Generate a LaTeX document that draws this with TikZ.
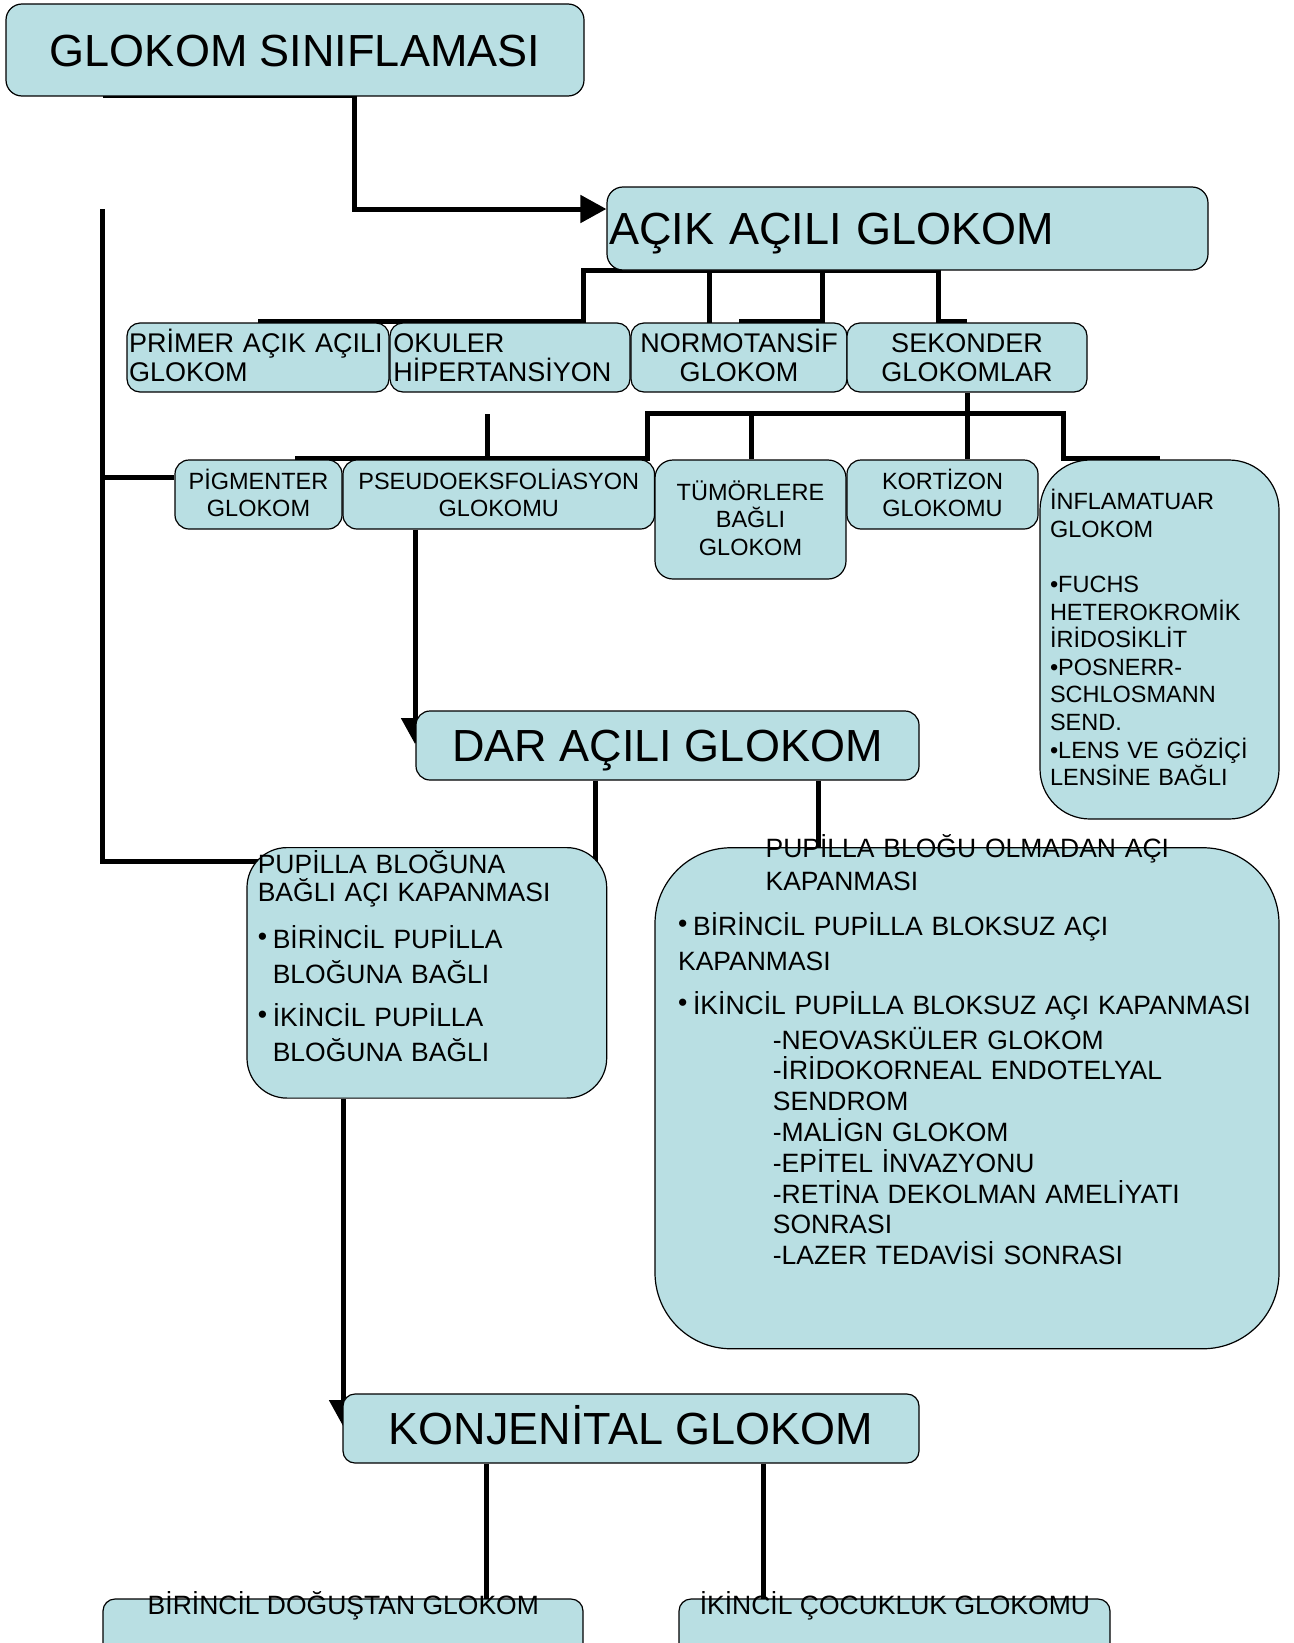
\documentclass[tikz,border=0pt]{standalone}
\usepackage{fontspec}
\setmainfont{Liberation Sans}
\usetikzlibrary{arrows.meta,backgrounds}

\definecolor{boxfill}{RGB}{185,223,227}
\newcommand{\fTitle}{\fontsize{22.5pt}{27pt}\selectfont}
\newcommand{\fMid}{\fontsize{13.5pt}{14.75pt}\selectfont}
\newcommand{\fSmall}{\fontsize{11.75pt}{13.78pt}\selectfont}
\newcommand{\fBody}{\fontsize{13.25pt}{15.4pt}\selectfont}
\newcommand{\blt}{\makebox[7.5pt][l]{\raisebox{1.5pt}{•}}}

\begin{document}
\begin{tikzpicture}[x=0.5pt, y=-0.5pt,
  box/.style={draw=black, line width=0.6pt, fill=boxfill, rounded corners=7pt, inner sep=0pt},
  title/.style={box, font=\fTitle, text height=16.1pt, text depth=0pt, rounded corners=8pt},
  mid/.style={box, font=\fMid, minimum height=34.5pt, text height=9.67pt, align=center, rounded corners=6.5pt},
  small/.style={box, font=\fSmall, minimum height=34.5pt, text height=8.41pt, align=center},
  txt/.style={anchor=base west, inner sep=0pt, font=\fBody, align=left},
  link/.style={line width=2.5pt},
  tip/.style={-{Triangle[length=13pt,width=13.5pt]}}]
  \path[use as bounding box] (0,0) rectangle (1294,1643);
  \clip (0,0) rectangle (1294,1643);

  \node[title, minimum width=289pt, minimum height=46pt] (sinif) at (295,50) {GLOKOM SINIFLAMASI};
  \node[title, minimum width=300.5pt, minimum height=41.5pt, text width=298.5pt, inner xsep=1pt, align=left] (acik) at (907.5,228.5) {AÇIK AÇILI GLOKOM};

  \node[mid, minimum width=131pt, text width=129pt, inner xsep=1pt, align=left] (primer) at (258,357.5) {PRİMER AÇIK AÇILI\\GLOKOM};
  \node[mid, minimum width=120pt, text width=116.6pt, inner xsep=1.7pt, align=left] (okuler) at (510,357.5) {OKULER\\HİPERTANSİYON};
  \node[mid, minimum width=108pt, text width=108pt] (normo) at (739,357.5) {NORMOTANSİF\\GLOKOM};
  \node[mid, minimum width=120pt, text width=120pt] (sekonder) at (967,357.5) {SEKONDER\\GLOKOMLAR};

  \node[small, minimum width=83.5pt, text width=83.5pt] (pigm) at (258.5,494.5) {PİGMENTER\\GLOKOM};
  \node[small, minimum width=155.75pt, text width=155.75pt] (pseudo) at (498.75,494.5) {PSEUDOEKSFOLİASYON\\GLOKOMU};
  \node[small, minimum width=95.5pt, text width=95.5pt, minimum height=59.5pt, rounded corners=9pt] (tumor) at (750.5,519.5) {TÜMÖRLERE\\BAĞLI\\GLOKOM};
  \node[small, minimum width=95.5pt, text width=95.5pt] (kort) at (942.5,494.5) {KORTİZON\\GLOKOMU};
  \node[small, minimum width=119.5pt, text width=109.5pt, inner xsep=5pt, minimum height=179.5pt, align=left, rounded corners=25pt] (infl) at (1159.5,639.5) {İNFLAMATUAR\\GLOKOM\\[13.78pt]•FUCHS\\HETEROKROMİK\\İRİDOSİKLİT\\•POSNERR-\\SCHLOSMANN\\SEND.\\•LENS VE GÖZİÇİ\\LENSİNE BAĞLI};

  \node[title, minimum width=251.5pt, minimum height=34.5pt, rounded corners=7pt] (dar) at (667.5,745.5) {DAR AÇILI GLOKOM};

  \node[box, minimum width=179.85pt, minimum height=125.25pt, rounded corners=20pt] (pupil) at (426.85,972.85) {};
  \node[box, minimum width=312pt, minimum height=250.5pt, rounded corners=38pt] (nonpup) at (967,1098.25) {};

  \node[txt, text width=175pt] (pupiltxt) at (257.4,873.3) {PUPİLLA BLOĞUNA\\[-1.2pt]BAĞLI AÇI KAPANMASI\\[7.9pt]\blt BİRİNCİL PUPİLLA\\[2.1pt]\hspace*{7.5pt}BLOĞUNA BAĞLI\\[6.3pt]\blt İKİNCİL PUPİLLA\\[2.1pt]\hspace*{7.5pt}BLOĞUNA BAĞLI};
  \node[txt, text width=250pt] (nphead) at (765.2,857.9) {PUPİLLA BLOĞU OLMADAN AÇI\\[0.95pt]KAPANMASI};
  \node[txt, text width=300pt] (npbul) at (677.7,935.4) {\blt BİRİNCİL PUPİLLA BLOKSUZ AÇI\\[2.15pt]KAPANMASI\\[6.65pt]\blt İKİNCİL PUPİLLA BLOKSUZ AÇI KAPANMASI};
  \node[txt, text width=240pt] (npsub) at (772.5,1049) {-NEOVASKÜLER GLOKOM\\-İRİDOKORNEAL ENDOTELYAL\\SENDROM\\-MALİGN GLOKOM\\-EPİTEL İNVAZYONU\\-RETİNA DEKOLMAN AMELİYATI\\SONRASI\\-LAZER TEDAVİSİ SONRASI};

  \node[title, minimum width=288pt, minimum height=34.5pt, rounded corners=6pt] (konj) at (631,1428.5) {KONJENİTAL GLOKOM};

  \node[box, minimum width=240pt, minimum height=50pt, rounded corners=6pt] (birincil) at (343,1649) {};
  \node[box, minimum width=215.5pt, minimum height=50pt, rounded corners=6pt] (ikincil) at (894.5,1649) {};
  \node[anchor=base, inner sep=0pt, font=\fBody] (birtxt) at (343.3,1614) {BİRİNCİL DOĞUŞTAN GLOKOM};
  \node[anchor=base, inner sep=0pt, font=\fBody] (ikitxt) at (894.9,1614) {İKİNCİL ÇOCUKLUK GLOKOMU};

  \coordinate (j0) at (103,96);
  \coordinate (j1) at (354,96);
  \coordinate (j2) at (354,209);
  \coordinate (l0) at (102,209);
  \coordinate (l1) at (102,861);
  \coordinate (l2) at (262,861);
  \coordinate (l3) at (102,477);
  \coordinate (b1) at (583,270);
  \coordinate (b2) at (709,270);
  \coordinate (b3) at (822.5,270);
  \coordinate (b4) at (938,270);
  \coordinate (t1) at (583,321);
  \coordinate (t2) at (709,323);
  \coordinate (t3) at (822.5,321);
  \coordinate (t4) at (938,321);
  \coordinate (k1) at (647,413);
  \coordinate (k2) at (751,413);
  \coordinate (k3) at (1063,413);
  \coordinate (u0) at (295,458);
  \coordinate (u1) at (647,458);
  \coordinate (u3) at (1063,458);
  \coordinate (p1) at (487,414);
  \coordinate (p2) at (487,458);
  \coordinate (q1) at (415,744);
  \coordinate (d1) at (595,870);
  \coordinate (d2) at (818,848);
  \coordinate (r1) at (343,1426);
  \coordinate (e1) at (486,1599);
  \coordinate (e2) at (763,1599);

  \begin{pgfonlayer}{background}
    \draw[link, tip] (j0) -- (j1) -- (j2) -- (j2 -| acik.west);
    \draw[link] (l0) -- (l1) -- (l2);
    \draw[link] (l3) -- (l3 -| pigm.west);
    \draw[link] (primer.north |- t1) -- (t1) -- (b1) -- (b4) -- (t4) -- (sekonder.north |- t4);
    \draw[link] (b2) -- (t2);
    \draw[link] (b3) -- (t3) -- (normo.north |- t3);
    \draw[link] (sekonder.south) -- (sekonder.south |- kort.north);
    \draw[link] (u0) -- (u1) -- (k1) -- (k3) -- (u3) -- (infl.north |- u3);
    \draw[link] (k2) -- (k2 |- tumor.north);
    \draw[link] (p1) -- (p2);
    \draw[link, tip] (q1 |- pseudo.south) -- (q1);
    \draw[link] (d1 |- dar.south) -- (d1);
    \draw[link] (d2 |- dar.south) -- (d2);
    \draw[link, tip] (r1 |- pupil.south) -- (r1);
    \draw[link] (e1 |- konj.south) -- (e1);
    \draw[link] (e2 |- konj.south) -- (e2);
  \end{pgfonlayer}
\end{tikzpicture}
\end{document}
